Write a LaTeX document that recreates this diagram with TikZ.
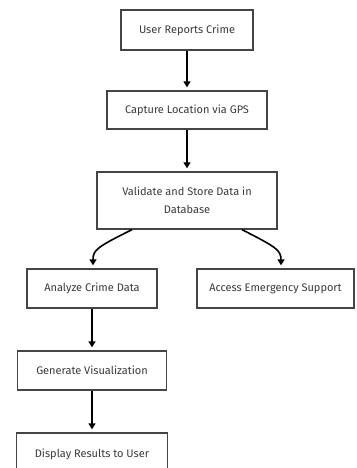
\documentclass[tikz,border=0pt]{standalone}
\usepackage{fontspec}
\setmainfont{Fira Sans}
\usetikzlibrary{arrows.meta}
\definecolor{boxline}{HTML}{454545}
\definecolor{txt}{HTML}{3A3A3A}
\tikzset{
  stepbox/.style={draw=boxline, line width=1.3pt, rectangle, inner sep=0pt, text=txt,
    font=\fontsize{11}{18}\selectfont, align=center},
  arr/.style={-{Triangle[length=6pt,width=7pt]}, line width=1.6pt, black, shorten >=3pt}
}
\begin{document}
\begin{tikzpicture}[x=1pt,y=-1pt]
\useasboundingbox (0,0) rectangle (356,468);
\node[stepbox, minimum width=132pt, minimum height=40pt] (u) at (187,30) {User Reports Crime};
\node[stepbox, minimum width=160pt, minimum height=38pt] (c) at (187,110) {Capture Location via GPS};
\node[stepbox, minimum width=180pt, minimum height=57pt] (v) at (187,200.5) {Validate and Store Data in\\Database};
\node[stepbox, minimum width=130pt, minimum height=39pt] (a) at (92,288.5) {Analyze Crime Data};
\node[stepbox, minimum width=157pt, minimum height=39pt] (e) at (275.5,288.5) {Access Emergency Support};
\node[stepbox, minimum width=149pt, minimum height=39pt] (g) at (92,370.5) {Generate Visualization};
\node[stepbox, minimum width=151pt, minimum height=42pt] (d) at (92,454) {Display Results to User};
\draw[arr] (u) -- (c);
\draw[arr] (c) -- (v);
\draw[arr] ([xshift=-55pt]v.south) .. controls (97,247) and (93,250) .. ([xshift=1pt]a.north);
\draw[arr] ([xshift=55pt]v.south) .. controls (276,247) and (281,250) .. ([xshift=5.5pt]e.north);
\draw[arr] (a) -- (g);
\draw[arr] (g) -- (d);
\end{tikzpicture}
\end{document}
